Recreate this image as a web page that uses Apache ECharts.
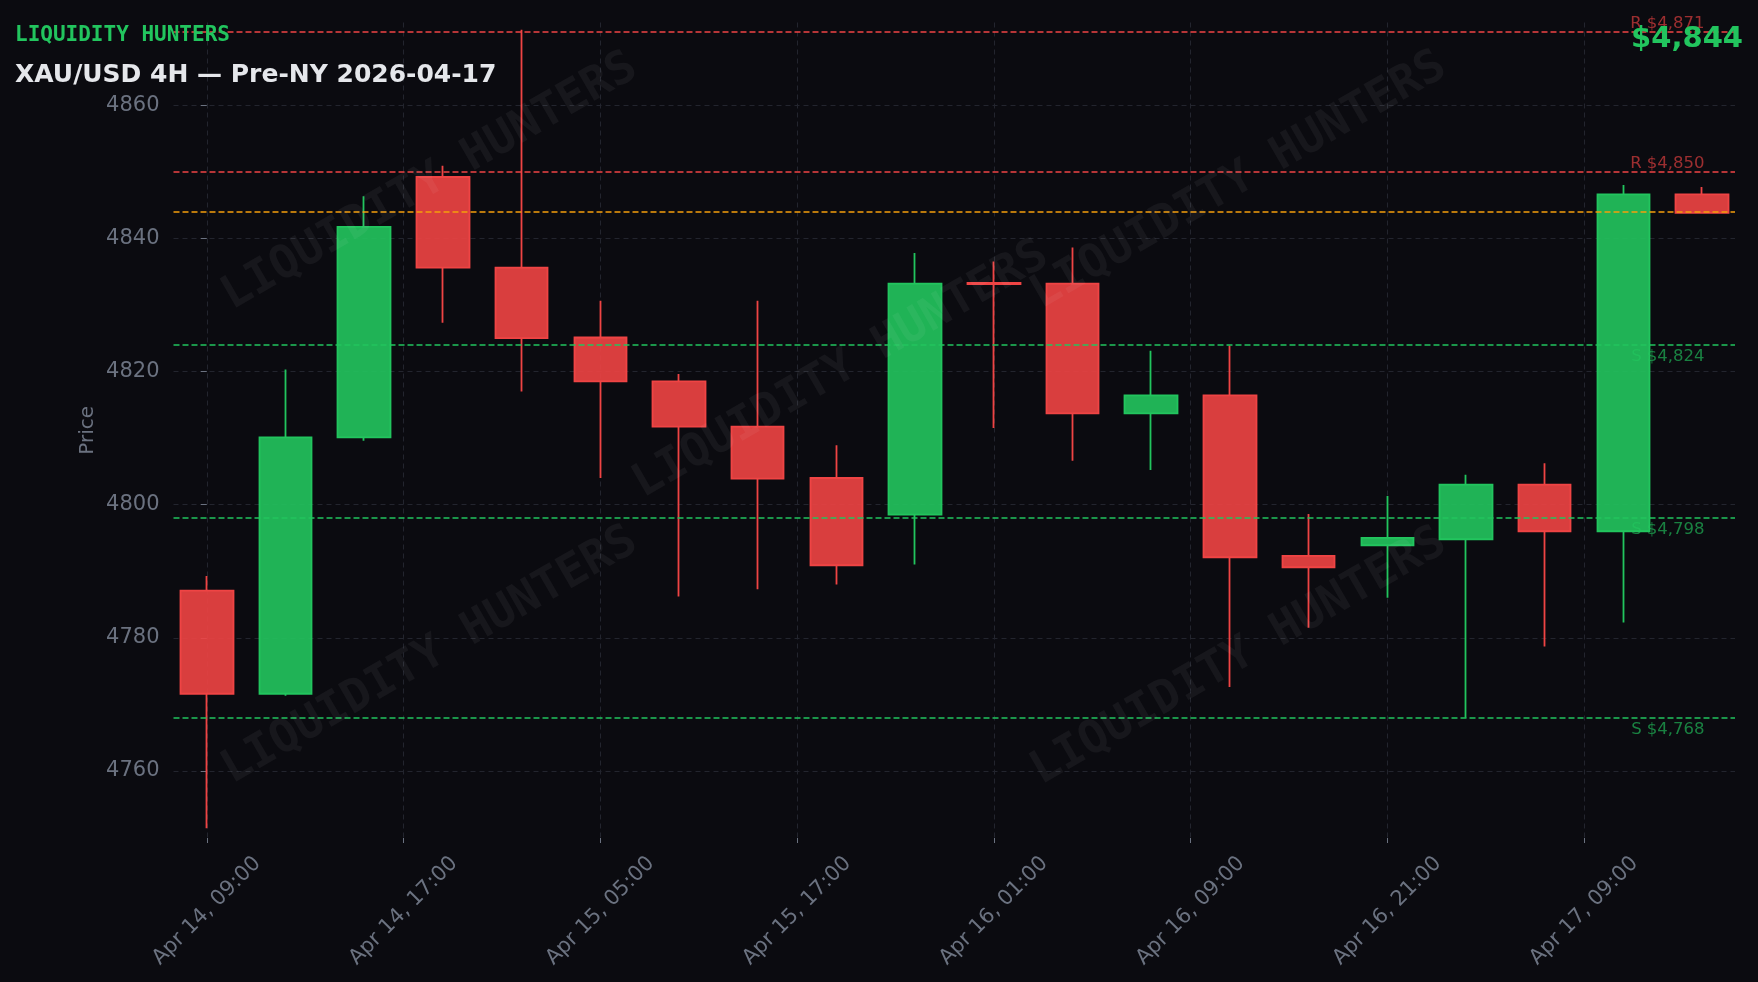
<!DOCTYPE html>
<html>
<head>
<meta charset="utf-8">
<script src="https://cdn.jsdelivr.net/npm/echarts@6/dist/echarts.min.js"></script>
<style>
html,body{margin:0;padding:0;background:#0b0b10;}
#c{width:1758px;height:982px;}
</style>
</head>
<body>
<div id="c"></div>
<script>
// ---- data ----
const times = [
  'Apr 14, 09:00','Apr 14, 13:00','Apr 14, 17:00','Apr 14, 21:00',
  'Apr 15, 01:00','Apr 15, 05:00','Apr 15, 09:00','Apr 15, 13:00','Apr 15, 17:00','Apr 15, 21:00',
  'Apr 16, 01:00','Apr 16, 05:00','Apr 16, 09:00','Apr 16, 13:00','Apr 16, 17:00','Apr 16, 21:00',
  'Apr 17, 01:00','Apr 17, 05:00','Apr 17, 09:00','Apr 17, 13:00'
];
const opens  = [4787.1,4771.6,4810.1,4849.2,4835.6,4825.1,4818.5,4811.7,4804.0,4798.5,4833.3,4833.2,4813.7,4816.4,4792.3,4793.9,4794.8,4803.0,4796.0,4846.6];
const closes = [4771.6,4810.1,4841.7,4835.6,4825.0,4818.5,4811.7,4803.9,4790.9,4833.2,4833.1,4813.7,4816.4,4792.1,4790.6,4795.0,4803.0,4796.0,4846.6,4843.8];
const lows   = [4751.4,4771.3,4809.6,4827.3,4817.0,4804.0,4786.2,4787.3,4788.0,4791.0,4811.5,4806.6,4805.2,4772.6,4781.5,4786.0,4768.0,4778.7,4782.3,4843.7];
const highs  = [4789.3,4820.3,4846.3,4850.9,4871.3,4830.6,4819.6,4830.6,4808.9,4837.8,4836.5,4838.6,4823.1,4823.9,4798.6,4801.3,4804.5,4806.2,4848.0,4847.7];

const xTickPositions = [0, 2.5, 5, 7.5, 10, 12.5, 15, 17.5];
const xTickLabels = ['Apr 14, 09:00','Apr 14, 17:00','Apr 15, 05:00','Apr 15, 17:00','Apr 16, 01:00','Apr 16, 09:00','Apr 16, 21:00','Apr 17, 09:00'];
const yTicks = [4760, 4780, 4800, 4820, 4840, 4860];

const resistanceLevels = [4871, 4850];
const supportLevels = [4824, 4798, 4768];
const currentPrice = 4844;

const headerText = 'LIQUIDITY HUNTERS';
const titleText = 'XAU/USD 4H \u2014 Pre-NY 2026-04-17';

// ---- build ----
const fmt = v => '$' + Math.round(v).toLocaleString('en-US');
const candleData = times.map((t, i) => [i, opens[i], closes[i], lows[i], highs[i]]);
const lastIndex = times.length - 1;

const RED = '#ef4444', GREEN = '#22c55e', ORANGE = '#f59e0b', GREY = '#6b7280';
const GRID_COLOR = '#23252e';

const watermarkPos = [[430, 182], [430, 656], [841, 370], [1239, 181], [1239, 657]];

const chart = echarts.init(document.getElementById('c'), null, {renderer: 'canvas'});
chart.setOption({
  backgroundColor: '#0b0b10',
  animation: false,
  grid: {left: 173.5, right: 23, top: 22.5, bottom: 144, containLabel: false, outerBoundsMode: 'none'},
  xAxis: {
    type: 'value',
    min: -0.423, max: 19.418,
    axisLine: {show: false},
    axisTick: {show: true, customValues: xTickPositions, length: 5, lineStyle: {color: GREY, width: 1}},
    axisLabel: {
      show: true, customValues: xTickPositions, rotate: 45, margin: 73,
      align: 'center', verticalAlign: 'middle',
      color: GREY, fontFamily: 'DejaVu Sans', fontSize: 21,
      formatter: v => { const k = xTickPositions.indexOf(v); return k >= 0 ? xTickLabels[k] : ''; }
    },
    splitLine: {show: true, lineStyle: {color: GRID_COLOR, type: [5, 4], width: 1}}
  },
  yAxis: {
    type: 'value',
    min: 4749.94, max: 4872.40,
    name: 'Price', nameLocation: 'middle', nameGap: 76, nameMoveOverlap: false,
    nameTextStyle: {color: GREY, fontFamily: 'DejaVu Sans', fontSize: 20},
    axisLine: {show: false},
    axisTick: {show: true, customValues: yTicks, length: 6, lineStyle: {color: GREY, width: 1}},
    axisLabel: {show: true, customValues: yTicks, margin: 14, color: GREY, fontFamily: 'DejaVu Sans', fontSize: 21,
                formatter: v => String(Math.round(v))},
    splitLine: {show: true, lineStyle: {color: GRID_COLOR, type: [5, 4], width: 1}}
  },
  series: [
    {
      type: 'candlestick',
      data: candleData,
      encode: {x: 0, y: [1, 2, 3, 4]},
      barWidth: 53,
      itemStyle: {
        color: 'rgba(34,197,94,0.9)', color0: 'rgba(239,68,68,0.9)',
        borderColor: GREEN, borderColor0: RED, borderWidth: 1.8
      },
      markLine: {
        silent: true, symbol: ['none', 'none'], label: {show: false},
        data: [
          ...resistanceLevels.map(v => ({yAxis: v, lineStyle: {color: RED, type: [6, 3], width: 1.6}})),
          {yAxis: currentPrice, lineStyle: {color: ORANGE, type: [6, 3], width: 1.6}},
          ...supportLevels.map(v => ({yAxis: v, lineStyle: {color: GREEN, type: [6, 3], width: 1.6}}))
        ]
      },
      z: 2
    },
    {
      type: 'scatter', silent: true, symbolSize: 1, itemStyle: {color: 'rgba(0,0,0,0)'},
      data: resistanceLevels.map(v => [lastIndex, v, 'R ' + fmt(v)]),
      label: {show: true, position: [3, 1], align: 'right', verticalAlign: 'bottom',
              formatter: p => p.value[2], color: 'rgba(239,68,68,0.8)', fontFamily: 'DejaVu Sans', fontSize: 16.5},
      z: 5
    },
    {
      type: 'scatter', silent: true, symbolSize: 1, itemStyle: {color: 'rgba(0,0,0,0)'},
      data: supportLevels.map(v => [lastIndex, v, 'S ' + fmt(v)]),
      label: {show: true, position: [3, 4], align: 'right', verticalAlign: 'top',
              formatter: p => p.value[2], color: 'rgba(34,197,94,0.8)', fontFamily: 'DejaVu Sans', fontSize: 16.5},
      z: 5
    }
  ],
  graphic: [
    ...watermarkPos.map(p => ({
      type: 'text', x: p[0], y: p[1], rotation: Math.PI / 6, z: 50, silent: true,
      style: {text: headerText, fill: 'rgba(255,255,255,0.05)', font: 'bold 46px "DejaVu Sans Mono"', align: 'center', verticalAlign: 'middle'}
    })),
    {type: 'text', x: 15, y: 36, z: 60,
     style: {text: headerText, fill: GREEN, font: 'bold 21px "DejaVu Sans Mono"', align: 'left', verticalAlign: 'middle'}},
    {type: 'text', x: 15, y: 75.5, z: 60,
     style: {text: titleText, fill: '#e5e7eb', font: 'bold 25px "DejaVu Sans"', align: 'left', verticalAlign: 'middle'}},
    {type: 'text', x: 1743, y: 39, z: 60,
     style: {text: fmt(closes[lastIndex]), fill: GREEN, font: 'bold 29px "DejaVu Sans"', align: 'right', verticalAlign: 'middle'}}
  ]
});
</script>
</body>
</html>
